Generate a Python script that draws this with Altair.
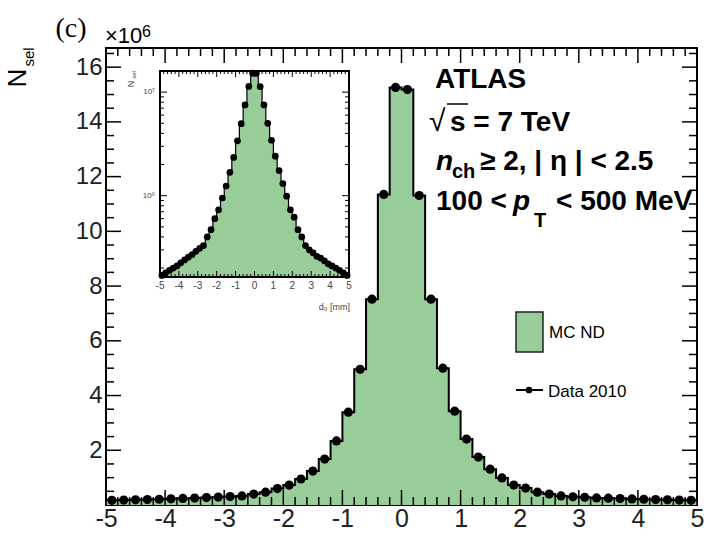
import altair as alt
import numpy as np
import pandas as pd

# ---- d0 histogram: 50 bins of 0.2 mm between -5 and 5 mm ----
BIN_WIDTH = 0.2
bin_low = np.round(np.arange(-5.0, 5.0, BIN_WIDTH), 1)

# selected tracks per bin, in units of 10^6
mc_nd = [0.17, 0.18, 0.19, 0.20, 0.21, 0.225, 0.24, 0.255, 0.27, 0.29,
         0.31, 0.33, 0.40, 0.47, 0.60, 0.73, 0.95, 1.24, 1.68, 2.34,
         3.39, 4.96, 7.52, 11.35, 15.26,
         15.18, 11.31, 7.52, 5.00, 3.43, 2.41, 1.75, 1.31, 0.99, 0.73,
         0.62, 0.47, 0.40, 0.33, 0.30, 0.28, 0.26, 0.25, 0.235, 0.22,
         0.21, 0.20, 0.19, 0.18, 0.17]
data_2010 = [0.17, 0.18, 0.19, 0.20, 0.21, 0.225, 0.24, 0.255, 0.27, 0.29,
             0.31, 0.33, 0.40, 0.47, 0.60, 0.73, 0.95, 1.24, 1.68, 2.34,
             3.39, 4.96, 7.52, 11.35, 15.26,
             15.18, 11.31, 7.52, 5.00, 3.43, 2.41, 1.75, 1.31, 0.99, 0.73,
             0.62, 0.47, 0.40, 0.33, 0.30, 0.28, 0.26, 0.25, 0.235, 0.22,
             0.21, 0.20, 0.19, 0.18, 0.17]

# axis tick values
x_major = list(range(-5, 6))
x_minor = [v for v in np.round(np.arange(-5.0, 5.01, 0.2), 1) if abs(v - round(v)) > 1e-6]
y_major = [2, 4, 6, 8, 10, 12, 14, 16]
y_minor = [v for v in np.arange(0.5, 16.6, 0.5) if v % 2 != 0]
inset_y_major = [1e6, 1e7]
inset_y_minor = [m * 10 ** e for e in (5, 6) for m in range(2, 10)]
inset_y_labels = ["10⁶", "10⁷"]

SCALE = 1e6
GREEN = "#98cc98"
FONT = "Liberation Sans"
W, H = 591, 457

hist = pd.DataFrame({"d0": list(bin_low) + [5.0], "n": mc_nd + [mc_nd[-1]]})
hist["cnt"] = hist["n"] * SCALE
pts = pd.DataFrame({"d0": bin_low + BIN_WIDTH / 2, "n": data_2010})
pts["cnt"] = pts["n"] * SCALE
one = pd.DataFrame({"k": [0]})

# ---------------- main panel ----------------
x_main = alt.Scale(domain=[-5, 5], nice=False, zero=False)
y_main = alt.Scale(domain=[0, 16.7], nice=False, zero=False)
x_axis = alt.Axis(values=x_major, labelExpr="datum.value + ''", title=None, ticks=False,
                  domain=False, grid=False, labelFontSize=25, labelPadding=1, labelFont=FONT,
                  labelColor="#222", labelOverlap=False, labelFlush=False)
y_axis = alt.Axis(values=y_major, title=None, ticks=False, domain=False, grid=False,
                  labelFontSize=24, labelPadding=4, labelFont=FONT, labelColor="#222",
                  labelOverlap=False, labelFlush=False)


def X(field):
    return alt.X(f"{field}:Q", scale=x_main, axis=x_axis)


def Y(field):
    return alt.Y(f"{field}:Q", scale=y_main, axis=y_axis)


fill = alt.Chart(hist).mark_area(interpolate="step-after", color=GREEN).encode(x=X("d0"), y=Y("n"))
outline = alt.Chart(hist).mark_line(interpolate="step-after", color="black", strokeWidth=2).encode(
    x=X("d0"), y=Y("n"))
dots = alt.Chart(pts).mark_circle(color="black", opacity=1, size=85).encode(x=X("d0"), y=Y("n"))


def xticks(vals, length):
    df = pd.DataFrame({"v": vals})
    bottom = alt.Chart(df).mark_rule(color="black", strokeWidth=1.5).encode(
        x=X("v"), y=alt.value(H), y2=alt.value(H - length))
    top = alt.Chart(df).mark_rule(color="black", strokeWidth=1.5).encode(
        x=X("v"), y=alt.value(0), y2=alt.value(length))
    return [bottom, top]


def yticks(vals, length):
    df = pd.DataFrame({"v": vals})
    left = alt.Chart(df).mark_rule(color="black", strokeWidth=1.5).encode(
        y=Y("v"), x=alt.value(0), x2=alt.value(length))
    right = alt.Chart(df).mark_rule(color="black", strokeWidth=1.5).encode(
        y=Y("v"), x=alt.value(W - length), x2=alt.value(W))
    return [left, right]


def text(t, x, y, size, align="left", baseline="alphabetic", **kw):
    return alt.Chart(one).mark_text(text=t, fontSize=size, align=align, baseline=baseline,
                                    font=kw.pop("font", FONT), color=kw.pop("color", "black"),
                                    **kw).encode(x=alt.value(x), y=alt.value(y))


def seg(x1, x2, y, width=1.5):
    return alt.Chart(one).mark_rule(color="black", strokeWidth=width).encode(
        x=alt.value(x1), x2=alt.value(x2), y=alt.value(y))


annotations = [
    text("(c)", -35, -19, 28, align="center", baseline="middle", font="Liberation Serif"),
    text("×10", -1, -5, 22),
    text("6", 36, -11, 16),
    text("N", -88, 30, 26, align="center", baseline="middle", angle=270),
    text("sel", -77, 9, 15, align="center", baseline="middle", angle=270),
    text("ATLAS", 329, 40, 28, fontWeight="bold"),
    text("√", 323, 83, 30),
    text("s = 7 TeV", 344, 83, 28, fontWeight="bold"),
    seg(341, 362, 56),
    text("n", 330, 122, 28, fontWeight="bold", fontStyle="italic"),
    text("ch", 346, 130, 20, fontWeight="bold"),
    text("≥ 2, | η | < 2.5", 374, 122, 28, fontWeight="bold"),
    text("100 <", 330, 162, 28, fontWeight="bold"),
    text("p", 407, 162, 28, fontWeight="bold", fontStyle="italic"),
    text("T", 428, 179, 20, fontWeight="bold"),
    text("< 500 MeV", 450, 162, 28, fontWeight="bold"),
    # legend
    alt.Chart(one).mark_rect(fill=GREEN, stroke="#222", strokeWidth=1.5).encode(
        x=alt.value(410), x2=alt.value(437), y=alt.value(264), y2=alt.value(304)),
    text("MC ND", 443, 290, 17),
    seg(410, 437, 342, 2),
    alt.Chart(one).mark_circle(color="black", opacity=1, size=45).encode(
        x=alt.value(423), y=alt.value(342)),
    text("Data 2010", 442, 349, 17),
]

main = alt.layer(fill, outline, *xticks(x_major, 15), *xticks(x_minor, 8),
                 *yticks(y_major, 15), *yticks(y_minor, 8), dots, *annotations)

# ---------------- inset: same distribution on a log scale ----------------
IX0, IX1 = 54, 243     # inset frame, left/right pixels
IYB, IYT = 229, 23     # inset frame, bottom/top pixels
LOG_MIN, LOG_MAX = 1.64e5, 1.6e7
x_in = alt.Scale(domain=[-5, 5], range=[IX0, IX1], nice=False, zero=False)
y_in = alt.Scale(type="log", domain=[LOG_MIN, LOG_MAX], range=[IYB, IYT], nice=False)


def XI(field):
    return alt.X(f"{field}:Q", scale=x_in, axis=None)


def YI(field):
    return alt.Y(f"{field}:Q", scale=y_in, axis=None)


inset_bg = alt.Chart(one).mark_rect(fill="white").encode(
    x=alt.value(IX0), x2=alt.value(IX1), y=alt.value(IYT), y2=alt.value(IYB))
inset_fill = alt.Chart(hist).mark_area(interpolate="step-after", color=GREEN).encode(
    x=XI("d0"), y=YI("cnt"), y2=alt.datum(LOG_MIN))
inset_line = alt.Chart(hist).mark_line(interpolate="step-after", color="black", strokeWidth=1.2).encode(
    x=XI("d0"), y=YI("cnt"))
inset_frame = alt.Chart(one).mark_rect(fill=None, stroke="black", strokeWidth=2).encode(
    x=alt.value(IX0), x2=alt.value(IX1), y=alt.value(IYT), y2=alt.value(IYB))
inset_dots = alt.Chart(pts).mark_circle(color="black", opacity=1, size=45).encode(
    x=XI("d0"), y=YI("cnt"))


def ixticks(vals, length):
    df = pd.DataFrame({"v": vals})
    return [alt.Chart(df).mark_rule(color="black", strokeWidth=1).encode(
                x=XI("v"), y=alt.value(IYB), y2=alt.value(IYB - length)),
            alt.Chart(df).mark_rule(color="black", strokeWidth=1).encode(
                x=XI("v"), y=alt.value(IYT), y2=alt.value(IYT + length))]


def iyticks(vals, length):
    df = pd.DataFrame({"v": vals})
    return [alt.Chart(df).mark_rule(color="black", strokeWidth=1).encode(
                y=YI("v"), x=alt.value(IX0), x2=alt.value(IX0 + length)),
            alt.Chart(df).mark_rule(color="black", strokeWidth=1).encode(
                y=YI("v"), x=alt.value(IX1 - length), x2=alt.value(IX1))]


ix_labels = alt.Chart(pd.DataFrame({"v": x_major, "t": [str(v) for v in x_major]})).mark_text(
    fontSize=10, font=FONT, color="#444", baseline="middle").encode(
    x=XI("v"), y=alt.value(IYB + 9), text="t:N")
iy_labels = alt.Chart(pd.DataFrame({"v": inset_y_major, "t": inset_y_labels})).mark_text(
    fontSize=8, font=FONT, color="#444", align="right", baseline="middle").encode(
    y=YI("v"), x=alt.value(IX0 - 5), text="t:N")

inset = alt.layer(
    inset_bg, inset_fill, inset_line,
    *ixticks(x_major, 6), *ixticks(x_minor, 3),
    *iyticks(inset_y_major, 7), *iyticks(inset_y_minor, 4),
    inset_frame, inset_dots, ix_labels, iy_labels,
    text("N", 25, 36, 9, align="center", baseline="middle", angle=270, color="#444"),
    text("sel", 28, 27, 6, align="center", baseline="middle", angle=270, color="#444"),
    text("d₀ [mm]", IX1 + 1, IYB + 30, 9, align="right", baseline="middle", color="#444"),
)

chart = alt.layer(main, inset).resolve_scale(x="independent", y="independent").properties(
    width=W, height=H,
    padding={"left": 106, "top": 48, "right": 15, "bottom": 36},
    autosize=alt.AutoSizeParams(type="none"),
    background="white",
).configure_view(stroke="black", strokeWidth=2)

chart.save("out.html", embed_options={"renderer": "svg", "actions": False})
